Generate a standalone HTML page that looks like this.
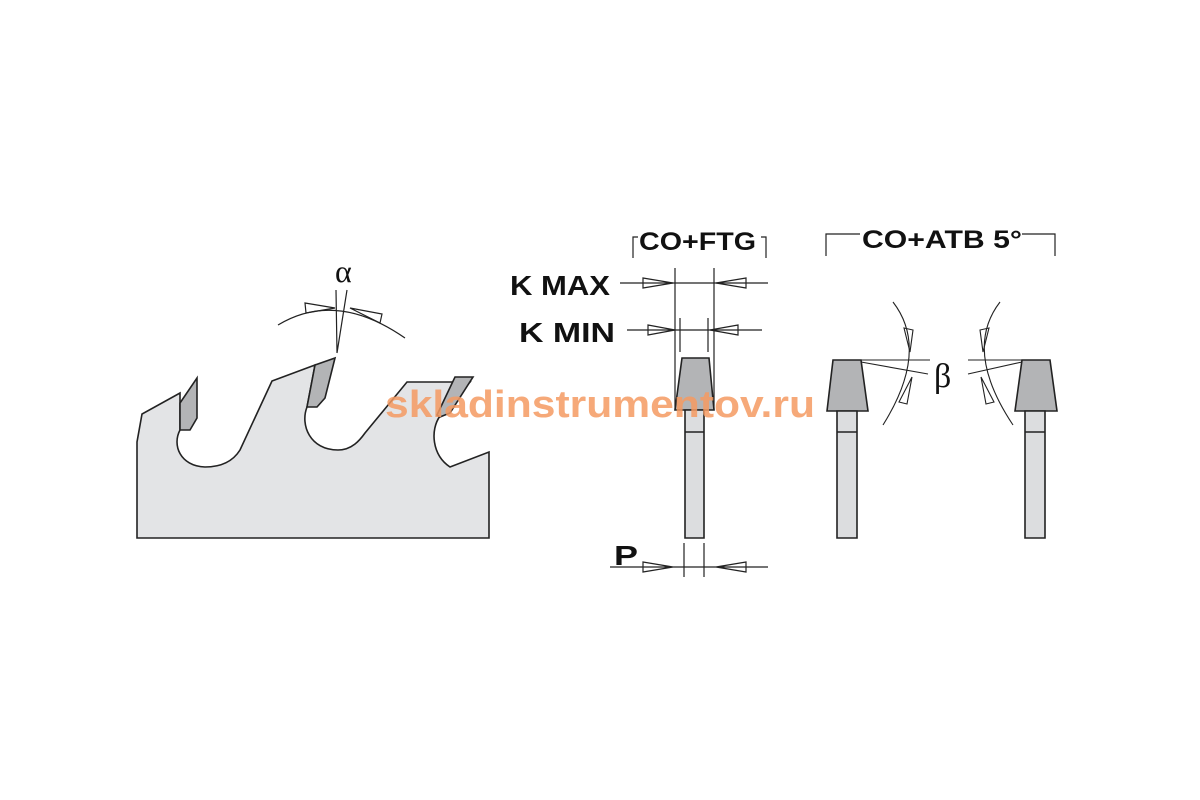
<!DOCTYPE html>
<html><head><style>body{margin:0;background:#fff}svg{display:block}</style></head><body>
<svg width="1200" height="800" viewBox="0 0 1200 800" xmlns="http://www.w3.org/2000/svg" font-family="Liberation Sans, sans-serif">
<g stroke="#222" stroke-width="1.6" fill="none">
<path fill="#e3e4e6" d="M137,538 L137,442 L142,414 L180,393 L180,430 C172,445 180,466 205,467 C225,467 235,458 240,450 L272,381 L315,365 L307,407 C300,425 310,450 338,450 C352,450 360,440 365,433 L407,382 L470,382 L440,416 C430,430 432,455 450,467 L489,452 L489,538 Z"/>
<path fill="#b3b4b6" d="M180,403 L197,378 L197,418 L190,430 L180,430 Z"/>
<path fill="#b3b4b6" d="M315,365 L335,358 L325,398 L317,407 L307,407 Z"/>
<path fill="#b3b4b6" d="M455,377 L473,377 L450,413 L440,417 L437,415 Z"/>
<path stroke-width="1.2" d="M337,353 L336,290 M337,353 L347,290 M278,325 Q336,290 405,338"/>
<path stroke-width="1.2" d="M305,303 L335,308 L306,313 Z M382,314 L350,308 L380,323 Z"/>
<path stroke-width="1.2" d="M633,258 L633,237 L638,237 M766,258 L766,237 L761,237"/>
<path stroke-width="1.2" d="M675,268 L675,410 M714,268 L714,410 M680,318 L680,352 M708,318 L708,352 M620,283 L768,283 M627,330 L762,330"/>
<path stroke-width="1.2" d="M643,278 L673,283 L643,288 Z M746,278 L716,283 L746,288 Z M648,325 L675,330 L648,335 Z M738,325 L710,330 L738,335 Z"/>
<path fill="#b3b4b6" d="M682,358 L709,358 L714,410 L675,410 Z"/>
<path fill="#dcdddf" d="M685,410 L704,410 L704,538 L685,538 Z M685,432 L704,432"/>
<path stroke-width="1.2" d="M684,543 L684,577 M704,543 L704,577 M610,567 L768,567 M643,562 L673,567 L643,572 Z M746,562 L716,567 L746,572 Z"/>
<path stroke-width="1.2" d="M826,256 L826,234 L860,234 M1022,234 L1055,234 L1055,256"/>
<path fill="#b3b4b6" d="M833,360 L861,360 L868,411 L827,411 Z"/>
<path fill="#dcdddf" d="M837,411 L857,411 L857,538 L837,538 Z M837,432 L857,432"/>
<path fill="#b3b4b6" d="M1022,360 L1050,360 L1057,411 L1015,411 Z"/>
<path fill="#dcdddf" d="M1025,411 L1045,411 L1045,538 L1025,538 Z M1025,432 L1045,432"/>
<path stroke-width="1.1" d="M861,360 L930,360 M861,362 L928,374 M1022,360 L968,360 M1022,362 L968,374"/>
<path stroke-width="1.1" d="M893,302 Q930,350 883,425 M1000,302 Q963,350 1013,425"/>
<path stroke-width="1.1" d="M904,328 L913,330 L910,352 Z M899,402 L907,404 L912,377 Z M989,328 L980,330 L983,352 Z M994,402 L986,404 L981,377 Z"/>
</g>
<g font-weight="bold" fill="#111">
<text x="510" y="295" font-size="28" textLength="100" lengthAdjust="spacingAndGlyphs">K MAX</text>
<text x="519" y="342" font-size="28" textLength="96" lengthAdjust="spacingAndGlyphs">K MIN</text>
<text x="639" y="250" font-size="25" textLength="117" lengthAdjust="spacingAndGlyphs">CO+FTG</text>
<text x="862" y="248" font-size="25" textLength="160" lengthAdjust="spacingAndGlyphs">CO+ATB 5°</text>
<text x="614" y="565" font-size="28" textLength="24" lengthAdjust="spacingAndGlyphs">P</text>
</g>
<text x="335" y="282" font-size="32" font-family="Liberation Serif, serif" fill="#111">α</text>
<text x="934" y="387" font-size="34" font-family="Liberation Serif, serif" fill="#111">β</text>
<text x="385" y="417" font-size="38" font-weight="bold" fill="#f49a62" fill-opacity="0.85" textLength="430" lengthAdjust="spacingAndGlyphs">skladinstrumentov.ru</text>
</svg>
</body></html>
